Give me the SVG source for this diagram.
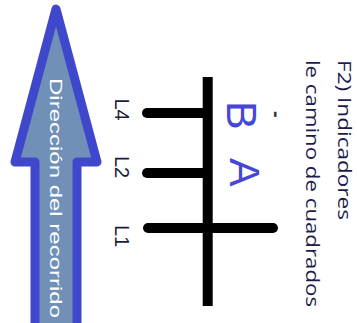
<svg xmlns="http://www.w3.org/2000/svg" width="357" height="323" viewBox="0 0 357 323">
<style>
.ln{stroke:#000;stroke-width:10;fill:none}
.rc{stroke-linecap:round}
.lab{font-family:"Liberation Sans",Arial,sans-serif;font-size:20px;fill:#1c1c3c}
.big{font-family:"Liberation Sans",Arial,sans-serif;font-size:43px;fill:#4646d8}
.cap{font-family:"Open Sans","Liberation Sans",sans-serif;font-size:19px;fill:#1c1c4c}
.arr{font-family:"Liberation Sans",Arial,sans-serif;font-size:17px;fill:#ffffff}
</style>
<rect width="357" height="323" fill="#ffffff"/>
<g id="arrow">
<path d="M56,9 L97,162 L77,162 L77,335 L35,335 L35,162 L15,162 Z" fill="#7090b8" stroke="#3f48cc" stroke-width="9" stroke-linejoin="round"/>
<text class="arr" transform="translate(50,78) rotate(90)" textLength="240" lengthAdjust="spacingAndGlyphs">Dirección del recorrido</text>
</g>
<g id="connectors">
<path class="ln" d="M207.7,77 L207.7,306"/>
<path class="ln rc" d="M147,113 L207,113"/>
<path class="ln rc" d="M147,173 L207,173"/>
<path class="ln rc" d="M148,228 L273,228"/>
</g>
<g id="label-L4"><text class="lab" transform="translate(115,98.5) rotate(90)">L4</text></g>
<g id="label-L2"><text class="lab" transform="translate(115,156) rotate(90)">L2</text></g>
<g id="label-L1"><text class="lab" transform="translate(115,225) rotate(90)">L1</text></g>
<g id="label-B"><text class="big" transform="translate(227,101) rotate(90)">B</text></g>
<g id="label-A"><text class="big" transform="translate(230,158) rotate(90)">A</text></g>
<g id="mark"><text transform="translate(270,111) rotate(90)" font-family="Liberation Sans, Arial, sans-serif" font-size="20" font-weight="bold" fill="#333">-</text></g>
<g id="title">
<text class="cap" transform="translate(338,60) rotate(90)" textLength="160" lengthAdjust="spacingAndGlyphs">F2) Indicadores</text>
<text class="cap" transform="translate(306,60) rotate(90)" textLength="247" lengthAdjust="spacingAndGlyphs">le camino de cuadrados</text>
</g>
</svg>
